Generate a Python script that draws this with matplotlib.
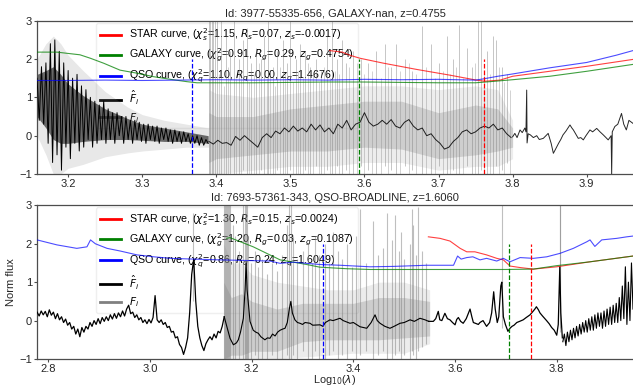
import numpy as np
import matplotlib
matplotlib.use("Agg")
import matplotlib.pyplot as plt
from matplotlib.lines import Line2D

plt.rcParams['font.family'] = ['Liberation Sans', 'DejaVu Sans']
plt.rcParams['font.size'] = 8

# ---------------- TOP PANEL DATA ----------------
top_title = "Id: 3977-55335-656, GALAXY-nan, z=0.4755"
top_xlim = (3.158, 3.9625)
top_xticks = [3.2, 3.3, 3.4, 3.5, 3.6, 3.7, 3.8, 3.9]
top_labels = ["STAR curve, ($\\chi_s^2$=1.15, $R_s$=0.07, $z_s$=-0.0017)",
              "GALAXY curve, ($\\chi_g^2$=0.91, $R_g$=0.29, $z_g$=0.4754)",
              "QSO curve, ($\\chi_q^2$=1.10, $R_q$=0.00, $z_q$=1.4676)",
              "$\\hat{F}_i$", "$F_i$"]

top_star_x = [3.553, 3.57, 3.58, 3.594, 3.626, 3.67, 3.715, 3.751, 3.762, 3.783, 3.80, 3.85, 3.90, 3.9625]
top_star_y = [2.22, 2.18, 2.10, 2.02, 1.89, 1.73, 1.58, 1.45, 1.42, 1.45, 1.55, 1.68, 1.81, 1.99]
top_gal_x = [3.158, 3.185, 3.198, 3.216, 3.23, 3.248, 3.27, 3.293, 3.315, 3.338, 3.36, 3.374, 3.40,
             3.45, 3.50, 3.55, 3.60, 3.65, 3.70, 3.75, 3.77, 3.80, 3.85, 3.90, 3.9625]
top_gal_y = [2.18, 2.18, 2.15, 2.11, 2.02, 1.89, 1.71, 1.63, 1.54, 1.47, 1.41, 1.38, 1.38,
             1.38, 1.39, 1.40, 1.40, 1.39, 1.38, 1.38, 1.41, 1.46, 1.55, 1.68, 1.86]
top_qso_x = [3.158, 3.20, 3.25, 3.30, 3.35, 3.40, 3.45, 3.50, 3.55, 3.60, 3.65, 3.70, 3.75, 3.76,
             3.78, 3.80, 3.85, 3.90, 3.94, 3.9625]
top_qso_y = [1.44, 1.44, 1.45, 1.44, 1.45, 1.46, 1.45, 1.46, 1.45, 1.47, 1.46, 1.47, 1.45, 1.48,
             1.55, 1.61, 1.77, 1.91, 2.10, 2.22]
top_z_lines = [3.3674, 3.5925, 3.7617]   # QSO, GALAXY, STAR

# F_hat (black) region A, uniform grid 3.158..3.389
top_fhatA_y = [1.5, 0.4, 1.8, 0.3, 1.9, -0.2, 2.4, -0.7, 2.5, -0.5, 2.2, -0.9, 1.9, -0.3, 1.7, -0.6,
               1.5, -0.2, 1.6, -0.4, 1.3, -0.3, 1.2, -0.1, 1.0, -0.3, 0.9, -0.2, 0.8, -0.1, 0.9, -0.2,
               0.7, -0.1, 0.6, -0.2, 0.6, 0.0, 0.5, -0.2, 0.5, -0.1, 0.4, -0.2, 0.4, -0.1, 0.35, -0.15,
               0.3, -0.2, 0.3, -0.1, 0.25, -0.15, 0.25, -0.2, 0.2, -0.1, 0.2, -0.15, 0.15, -0.2, 0.15,
               -0.15, 0.1, -0.2, 0.1, -0.15, 0.05, -0.2, 0.0, -0.2, 0.0, -0.25, -0.05, -0.25, -0.1, -0.2]
# dense core of F_hat in region A (envelope)
top_coreA_x = [3.158, 3.17, 3.18, 3.19, 3.20, 3.22, 3.25, 3.28, 3.30, 3.33, 3.36, 3.389]
top_coreA_hi = [1.6, 1.7, 1.8, 1.6, 1.35, 1.05, 0.7, 0.45, 0.3, 0.2, 0.1, 0.0]
top_coreA_lo = [0.5, 0.2, -0.1, -0.2, -0.2, -0.15, -0.1, -0.1, -0.12, -0.15, -0.15, -0.2]
# F_hat region B/C, uniform grid 3.390..3.798
top_fhatC_y = [-0.15, -0.22, -0.12, -0.2, -0.18, -0.25, -0.02, -0.12, 0.0, -0.1, -0.2, -0.3, -0.05,
               0.05, -0.05, 0.12, 0.05, 0.2, 0.1, 0.25, 0.12, 0.2, 0.1, 0.3, 0.15, 0.28, 0.1, 0.2,
               0.05, 0.3, 0.2, 0.4, 0.15, 0.3, 0.35, 0.6, 0.35, 0.25, 0.3, 0.4, 0.3, 0.42, 0.25, 0.2,
               0.35, 0.42, 0.25, 0.15, 0.2, 0.0, 0.05, -0.1, -0.2, -0.35, -0.3, -0.15, -0.05, 0.1,
               0.15, 0.05, 0.1, 0.2, 0.25, 0.2, 0.3, 0.15, 0.2, 0.05, -0.05]
# F_hat region D (black only)
top_fhatD_x = [3.800, 3.803, 3.806, 3.810, 3.813, 3.8165, 3.818, 3.819, 3.8195, 3.821, 3.824, 3.828,
               3.8325, 3.836, 3.8414, 3.845, 3.848, 3.852, 3.855, 3.858, 3.862, 3.865, 3.868, 3.872,
               3.8774, 3.880, 3.882, 3.885, 3.8886, 3.892, 3.8954, 3.899, 3.9044, 3.908, 3.9135,
               3.918, 3.9224, 3.926, 3.929, 3.933, 3.9337, 3.9345, 3.938, 3.942, 3.947, 3.950,
               3.9535, 3.957, 3.9625]
top_fhatD_y = [-0.03, 0.06, -0.05, 0.15, 0.08, 0.2, 0.1, 1.19, -0.19, 0.05, 0.02, -0.05, 0.0, -0.1,
               -0.07, 0.0, 0.06, -0.2, -0.46, -0.35, -0.2, -0.1, 0.02, 0.12, 0.28, 0.2, 0.15, 0.05,
               -0.07, -0.05, -0.11, 0.0, 0.15, 0.1, 0.19, 0.1, 0.02, -0.05, -0.11, 0.0, -1.0, 0.1,
               0.24, 0.3, 0.58, 0.3, 0.15, 0.4, 0.32]
# F_i (gray) envelopes
top_fiA_x = [3.158, 3.17, 3.18, 3.19, 3.20, 3.22, 3.25, 3.28, 3.30, 3.33, 3.36, 3.39]
top_fiA_hi = [2.0, 2.4, 2.6, 2.4, 2.1, 1.7, 1.15, 0.75, 0.55, 0.4, 0.3, 0.2]
top_fiA_lo = [0.0, -0.5, -1.0, -1.0, -0.85, -0.75, -0.55, -0.45, -0.4, -0.35, -0.3, -0.3]
top_fiC_x = [3.39, 3.40, 3.45, 3.50, 3.55, 3.60, 3.65, 3.70, 3.75, 3.78, 3.80]
top_fiC_hi = [1.2, 1.1, 1.0, 1.1, 1.2, 1.3, 1.3, 1.2, 1.3, 1.2, 0.4]
top_fiC_lo = [-1.0, -1.0, -0.9, -0.8, -0.8, -0.7, -0.7, -0.9, -0.8, -0.8, -0.6]
top_fiC_ihi = [0.6, 0.5, 0.5, 0.7, 0.8, 0.9, 0.9, 0.6, 0.8, 0.7, 0.2]
top_fiC_ilo = [-0.7, -0.6, -0.5, -0.4, -0.4, -0.3, -0.35, -0.6, -0.5, -0.4, -0.3]
top_spike_x = [3.390, 3.392, 3.394, 3.396, 3.398, 3.401, 3.407, 3.413, 3.419, 3.424, 3.430, 3.436,
               3.441, 3.447, 3.454, 3.460, 3.465, 3.470, 3.476, 3.482, 3.490, 3.496, 3.500, 3.507,
               3.513, 3.520, 3.527, 3.535, 3.542, 3.550, 3.556, 3.563, 3.570, 3.575, 3.585, 3.596,
               3.605, 3.616, 3.628, 3.636, 3.643, 3.655, 3.664, 3.677, 3.690, 3.700, 3.712, 3.720,
               3.728, 3.739, 3.745, 3.753, 3.757, 3.765, 3.773, 3.778, 3.785, 3.792]
top_spike_top = [3.2, 3.2, 3.2, 3.2, 3.2, 3.2, 3.2, 2.6, 2.2, 3.2, 2.0, 2.5, 2.8, 1.9, 2.3, 2.0, 2.6,
                 3.2, 1.8, 2.2, 2.5, 1.9, 3.2, 2.0, 2.4, 2.2, 1.8, 2.0, 1.7, 2.6, 3.2, 2.0, 2.5, 1.9,
                 2.2, 2.0, 1.9, 2.2, 2.4, 1.8, 2.4, 2.0, 1.7, 2.85, 2.4, 1.9, 2.6, 2.0, 2.9, 2.3, 1.8,
                 3.2, 3.2, 2.2, 2.6, 2.5, 1.8, 1.6]
top_spike_bot = [-1.1, -1.1, -1.1, -1.1, -1.1, -1.1, -1.1, -1.0, -1.1, -1.0, -1.1, -0.9, -1.1, -1.0,
                 -1.1, -0.9, -1.1, -1.0, -1.1, -0.9, -1.1, -1.0, -0.9, -1.1, -1.0, -0.9, -1.1, -0.8,
                 -1.0, -0.9, -1.1, -0.8, -1.0, -0.9, -1.1, -0.8, -0.9, -1.1, -0.8, -0.9, -1.1, -0.8,
                 -0.9, -1.1, -1.0, -0.8, -1.1, -0.9, -1.1, -0.8, -1.0, -1.1, -0.9, -1.0, -1.1, -0.8,
                 -0.9, -0.7]
# shorter F_i excursions in top region C
top_short_x = [3.404, 3.410, 3.416, 3.427, 3.433, 3.444, 3.451, 3.457, 3.468, 3.473, 3.479, 3.486,
               3.493, 3.503, 3.510, 3.517, 3.524, 3.531, 3.538, 3.546, 3.553, 3.560, 3.566, 3.579,
               3.590, 3.600, 3.610, 3.622, 3.632, 3.648, 3.660, 3.670, 3.683, 3.695, 3.706, 3.716,
               3.724, 3.733, 3.749, 3.761, 3.769, 3.782, 3.789, 3.796]
top_short_top = [1.6, 1.3, 1.8, 1.5, 1.7, 1.4, 1.6, 1.9, 1.5, 1.7, 1.3, 1.8, 1.6, 1.4, 1.7, 1.5, 1.9,
                 1.6, 1.4, 1.8, 1.5, 1.7, 1.6, 1.8, 1.9, 1.6, 1.7, 1.5, 1.8, 1.7, 1.9, 1.6, 1.8, 1.5,
                 1.7, 1.6, 1.8, 1.5, 1.9, 1.7, 1.6, 1.8, 1.4, 1.2]

# ---------------- BOTTOM PANEL DATA ----------------
bot_title = "Id: 7693-57361-343, QSO-BROADLINE, z=1.6060"
bot_xlim = (2.7778, 3.950)
bot_xticks = [2.8, 3.0, 3.2, 3.4, 3.6, 3.8]
bot_labels = ["STAR curve, ($\\chi_s^2$=1.30, $R_s$=0.15, $z_s$=0.0024)",
              "GALAXY curve, ($\\chi_g^2$=1.20, $R_g$=0.03, $z_g$=0.1087)",
              "QSO curve, ($\\chi_q^2$=0.86, $R_q$=0.24, $z_q$=1.6049)",
              "$\\hat{F}_i$", "$F_i$"]

bot_star_x = [3.5475, 3.5705, 3.59, 3.61, 3.623, 3.639, 3.662, 3.682, 3.695, 3.708, 3.728, 3.754,
              3.80, 3.8655, 3.95]
bot_star_y = [2.18, 2.14, 2.07, 1.88, 1.79, 1.79, 1.71, 1.62, 1.58, 1.42, 1.38, 1.34, 1.40, 1.53, 1.68]
bot_gal_x = [3.151, 3.157, 3.203, 3.256, 3.308, 3.334, 3.387, 3.433, 3.50, 3.60, 3.70, 3.754, 3.80,
             3.8655, 3.95]
bot_gal_y = [2.14, 2.16, 1.92, 1.58, 1.46, 1.39, 1.35, 1.33, 1.33, 1.33, 1.33, 1.34, 1.43, 1.53, 1.68]
bot_qso_x = [2.7778, 2.817, 2.856, 2.876, 2.883, 2.8925, 2.9155, 2.9416, 2.9745, 3.0073, 3.04, 3.086,
             3.1377, 3.236, 3.256, 3.282, 3.334, 3.374, 3.433, 3.4786, 3.544, 3.597, 3.605, 3.612,
             3.623, 3.635, 3.649, 3.662, 3.682, 3.695, 3.708, 3.728, 3.754, 3.7804, 3.8065, 3.8327,
             3.859, 3.8655, 3.875, 3.8885, 3.918, 3.9377, 3.95]
bot_qso_y = [2.10, 1.97, 1.88, 1.92, 2.10, 2.00, 1.88, 1.81, 1.71, 1.66, 1.62, 1.60, 1.58, 1.55,
             1.49, 1.52, 1.46, 1.44, 1.40, 1.41, 1.44, 1.44, 1.68, 1.60, 1.64, 1.66, 1.58, 1.62,
             1.55, 1.62, 1.53, 1.64, 1.62, 1.66, 1.75, 1.88, 2.05, 2.10, 1.93, 2.10, 2.14, 2.18, 2.20]
bot_z_lines = [3.3397, 3.7068, 3.750]   # QSO, GALAXY, STAR

# F_hat region 1, uniform grid 2.778..3.146
bot_fhat1_y = [0.22, 0.12, 0.25, 0.15, 0.24, 0.10, 0.28, 0.14, 0.22, 0.05, 0.18, 0.02, 0.10, -0.05,
               0.04, -0.12, -0.05, -0.22, -0.15, -0.35, -0.22, -0.42, -0.18, -0.30, -0.15, -0.22,
               -0.05, -0.15, 0.00, -0.10, 0.05, -0.08, 0.08, -0.02, 0.10, 0.00, 0.15, 0.04, 0.18,
               0.06, 0.20, 0.10, 0.25, 0.12, 0.30, 0.40, 0.18, 0.22, 0.08, 0.15, 0.02, 0.08, -0.05,
               0.02, -0.08, 0.03, -0.06, 0.08, 0.65, 0.02, -0.05, 0.02, -0.10, -0.05, -0.18, -0.15,
               -0.30, -0.28, -0.45, -0.42, -0.62, -0.70, -0.88, -0.70, -0.45, 0.20, 1.20, 1.60, 0.50,
               -0.15, -0.45, -0.65, -0.78, -0.60, -0.50, -0.42, -0.50, -0.35, -0.45, -0.28, -0.32,
               -0.15, 0.10]
# F_hat region 2
bot_fhat2_x = [3.146, 3.150, 3.1574, 3.164, 3.170, 3.1737, 3.178, 3.1836, 3.187, 3.189, 3.191,
               3.1967, 3.203, 3.208, 3.213, 3.218, 3.226, 3.231, 3.236, 3.241, 3.246, 3.251, 3.256,
               3.261, 3.2656, 3.270, 3.274, 3.277, 3.280, 3.285, 3.290, 3.295, 3.300, 3.305, 3.3148,
               3.320, 3.3344, 3.340, 3.345, 3.354, 3.360, 3.3737, 3.380, 3.3934, 3.400, 3.413, 3.4263,
               3.435, 3.4426, 3.447, 3.4525, 3.462, 3.472, 3.480, 3.4918, 3.500, 3.5115, 3.520,
               3.531, 3.541, 3.548]
bot_fhat2_y = [0.10, -0.10, -0.46, -0.63, -0.58, -0.50, -0.30, 0.06, 0.8, 1.5, 0.8, -0.02, -0.25,
               -0.30, -0.33, -0.42, -0.50, -0.45, -0.46, -0.35, -0.40, -0.30, -0.25, -0.22, -0.20,
               -0.05, 0.30, 0.50, 0.20, 0.02, -0.05, -0.07, -0.10, -0.05, -0.07, -0.12, -0.11,
               -0.15, -0.05, 0.02, 0.00, 0.06, 0.00, -0.07, -0.05, -0.16, -0.20, -0.05, 0.15, 0.00,
               -0.07, -0.15, -0.20, -0.15, -0.07, -0.05, 0.02, -0.02, 0.06, 0.02, -0.02]
# F_hat region 3
bot_fhat3_x = [3.548, 3.5573, 3.562, 3.567, 3.570, 3.574, 3.580, 3.585, 3.590, 3.595, 3.600, 3.6033,
               3.6065, 3.611, 3.616, 3.622, 3.6295, 3.633, 3.636, 3.6458, 3.649, 3.655, 3.662,
               3.668, 3.672, 3.676, 3.679, 3.683, 3.686, 3.690, 3.692, 3.695, 3.699, 3.704, 3.708,
               3.712, 3.716, 3.7214, 3.727, 3.734, 3.740, 3.7475, 3.752, 3.757, 3.760, 3.764, 3.767,
               3.772, 3.776, 3.780, 3.785, 3.790, 3.795, 3.800, 3.803, 3.806, 3.808, 3.811]
bot_fhat3_y = [-0.02, -0.02, 0.05, 0.24, 0.02, 0.0, 0.19, 0.05, 0.02, -0.05, -0.11, 0.03, 0.08,
               -0.02, -0.07, 0.05, 0.30, 0.10, -0.05, -0.10, -0.05, 0.0, -0.15, -0.05, 0.20, 0.75,
               0.30, -0.05, 0.10, 0.90, 1.00, 0.10, -0.10, -0.28, -0.20, -0.15, -0.12, -0.05, -0.02,
               0.02, 0.08, 0.15, 0.22, 0.30, 0.36, 0.28, 0.20, 0.12, 0.06, 0.00, -0.08, -0.18,
               -0.25, -0.38, -0.10, 1.40, 0.20, -0.45]
# F_hat region 4, uniform grid 3.812..3.950
bot_fhat4_y = [-0.55, -0.35, -0.65, -0.30, -0.55, -0.25, -0.50, -0.20, -0.45, -0.15, -0.40, -0.10,
               -0.35, -0.05, -0.30, 0.00, -0.30, 0.05, -0.25, 0.10, -0.25, 0.15, -0.20, 0.20, -0.15,
               0.20, -0.20, 0.25, -0.15, 0.30, -0.10, 0.35, -0.10, 0.40, -0.05, 0.45, -0.05, 0.60,
               0.00, 0.90, 0.05, 1.40, -0.10, 1.00, 0.00, 1.50, 0.30]
# F_i (gray) envelopes, region 2
bot_fi_x = [3.145, 3.16, 3.18, 3.20, 3.25, 3.30, 3.35, 3.40, 3.45, 3.50, 3.55]
bot_fi_hi = [2.0, 1.5, 1.5, 1.2, 1.0, 0.9, 0.8, 0.8, 1.0, 1.0, 0.8]
bot_fi_lo = [-1.0, -1.0, -1.0, -1.0, -1.0, -0.95, -0.9, -0.85, -0.85, -0.85, -0.6]
bot_fi_ihi = [1.0, 0.6, 0.7, 0.5, 0.3, 0.45, 0.45, 0.45, 0.6, 0.6, 0.5]
bot_fi_ilo = [-1.0, -0.9, -0.9, -0.8, -0.8, -0.55, -0.5, -0.5, -0.5, -0.45, -0.4]
bot_spike_x = [3.145, 3.147, 3.149, 3.151, 3.153, 3.155, 3.158, 3.163, 3.168, 3.175, 3.182, 3.186,
               3.188, 3.190, 3.193, 3.198, 3.206, 3.213, 3.220, 3.230, 3.240, 3.250, 3.260, 3.270,
               3.274, 3.277, 3.282, 3.290, 3.300, 3.310, 3.318, 3.325, 3.332, 3.345, 3.352, 3.360,
               3.370, 3.378, 3.388, 3.397, 3.405, 3.413, 3.425, 3.439, 3.448, 3.458, 3.466, 3.476,
               3.482, 3.490, 3.494, 3.500, 3.511, 3.515, 3.518, 3.523, 3.528, 3.535, 3.542,
               3.084, 3.692, 3.806, 3.807]
bot_spike_top = [3.2, 3.2, 3.2, 3.2, 3.2, 3.2, 3.2, 2.5, 2.2, 1.8, 3.2, 3.2, 3.2, 3.2, 2.2, 1.5, 1.8,
                 1.4, 1.6, 1.2, 1.5, 1.3, 1.7, 2.5, 3.2, 3.2, 2.2, 1.6, 1.8, 2.0, 1.5, 2.2, 1.7, 2.0,
                 1.5, 2.3, 1.8, 1.6, 2.0, 1.4, 2.2, 2.9, 1.5, 2.6, 1.7, 1.9, 2.8, 2.1, 2.75, 1.8, 2.3,
                 1.6, 2.0, 2.9, 2.5, 1.7, 2.95, 1.8, 1.5,
                 2.8, 3.2, 3.2, 3.2]
bot_spike_bot = [-1.1, -1.1, -1.1, -1.1, -1.1, -1.1, -1.1, -1.1, -1.0, -1.1, -1.0, -1.1, -1.0, -1.1,
                 -1.0, -1.1, -0.9, -1.1, -1.0, -1.1, -0.9, -1.1, -1.0, -0.9, -1.1, -1.0, -0.9, -1.1,
                 -0.8, -1.0, -1.1, -0.8, -1.0, -1.1, -0.9, -0.8, -1.1, -0.9, -1.0, -0.8, -1.1, -0.9,
                 -0.8, -1.1, -0.9, -0.8, -1.0, -1.1, -0.9, -0.8, -1.0, -0.9, -1.1, -0.8, -0.9, -1.0,
                 -0.8, -0.7, -0.6,
                 0.5, -0.2, -0.2, -0.3]

# ---------------- DRAWING ----------------
C_STAR, C_GAL, C_QSO = 'red', 'green', 'blue'
SPINE = '0.3'

fig = plt.figure(figsize=(6.33, 3.86), dpi=100)
ax_top = fig.add_axes([0.0585, 0.5492, 0.9415, 0.3972])
ax_bot = fig.add_axes([0.0585, 0.0699, 0.9415, 0.3982])


def style_axes(ax, xlim, xticks, title):
    ax.set_xlim(*xlim)
    ax.set_ylim(-1, 3)
    ax.set_xticks(xticks)
    ax.set_yticks([-1, 0, 1, 2, 3])
    ax.set_title(title, fontsize=8, pad=3, color='0.15')
    for s in ['left', 'bottom', 'top']:
        ax.spines[s].set_color(SPINE)
        ax.spines[s].set_linewidth(0.9)
    ax.spines['right'].set_visible(False)
    ax.tick_params(direction='out', length=2.5, width=0.8, color=SPINE,
                   labelsize=8, labelcolor='0.15', pad=1.2)


def add_legend(ax, labels):
    handles = [Line2D([], [], color=C_STAR, lw=2),
               Line2D([], [], color=C_GAL, lw=2),
               Line2D([], [], color=C_QSO, lw=2),
               Line2D([], [], color='black', lw=2),
               Line2D([], [], color='gray', lw=2)]
    leg = ax.legend(handles, labels, loc='upper left', bbox_to_anchor=(0.095, 1.0),
                    fontsize=7.7, framealpha=0.8, borderaxespad=0.2, labelspacing=0.34,
                    handlelength=2.0, borderpad=0.35)
    leg.get_frame().set_edgecolor('0.92')
    leg.set_zorder(0.5)   # data is drawn over the legend, as in the reference


def draw_curves(ax, sx, sy, gx, gy, qx, qy, zl):
    ax.plot(sx, sy, color=C_STAR, lw=0.8, alpha=0.75, zorder=4)
    ax.plot(gx, gy, color=C_GAL, lw=0.8, alpha=0.75, zorder=4)
    ax.plot(qx, qy, color=C_QSO, lw=0.8, alpha=0.7, zorder=4)
    for xz, c in zip(zl, [C_QSO, C_GAL, C_STAR]):
        ax.vlines(xz, -1, 2, colors=c, linestyles='--', lw=0.9, zorder=5)


# --- top panel ---
ax = ax_top
style_axes(ax, top_xlim, top_xticks, top_title)
ax.fill_between(top_fiA_x, top_fiA_lo, top_fiA_hi, color='gray', alpha=0.18, lw=0, zorder=1)
ax.fill_between(top_fiC_x, top_fiC_lo, top_fiC_hi, color='gray', alpha=0.14, lw=0, zorder=1)
ax.fill_between(top_fiC_x, top_fiC_ilo, top_fiC_ihi, color='gray', alpha=0.28, lw=0, zorder=1)
ax.vlines(top_spike_x, top_spike_bot, top_spike_top, colors='gray', alpha=0.45, lw=0.7, zorder=1)
ax.vlines(top_short_x, -1.0, top_short_top, colors='gray', alpha=0.35, lw=0.7, zorder=1)
xA = np.linspace(3.158, 3.389, len(top_fhatA_y))
xC = np.linspace(3.390, 3.798, len(top_fhatC_y))
ax.fill_between(top_coreA_x, top_coreA_lo, top_coreA_hi, color='black', alpha=0.55, lw=0, zorder=2)
ax.plot(xA, top_fhatA_y, color='black', lw=0.7, zorder=3)
ax.plot(xC, top_fhatC_y, color='black', lw=0.7, alpha=0.85, zorder=3)
ax.plot(top_fhatD_x, top_fhatD_y, color='black', lw=0.7, alpha=0.85, zorder=3)
draw_curves(ax, top_star_x, top_star_y, top_gal_x, top_gal_y, top_qso_x, top_qso_y, top_z_lines)
add_legend(ax, top_labels)

# --- bottom panel ---
ax = ax_bot
style_axes(ax, bot_xlim, bot_xticks, bot_title)
ax.fill_between(bot_fi_x, bot_fi_lo, bot_fi_hi, color='gray', alpha=0.15, lw=0, zorder=1)
ax.fill_between(bot_fi_x, bot_fi_ilo, bot_fi_ihi, color='gray', alpha=0.28, lw=0, zorder=1)
ax.vlines(bot_spike_x, bot_spike_bot, bot_spike_top, colors='gray', alpha=0.5, lw=0.8, zorder=1)
x1 = np.linspace(2.778, 3.146, len(bot_fhat1_y))
x4 = np.linspace(3.812, 3.950, len(bot_fhat4_y))
ax.plot(x1, bot_fhat1_y, color='black', lw=0.9, zorder=3)
ax.plot(bot_fhat2_x, bot_fhat2_y, color='black', lw=0.8, zorder=3)
ax.plot(bot_fhat3_x, bot_fhat3_y, color='black', lw=0.9, zorder=3)
ax.plot(x4, bot_fhat4_y, color='black', lw=0.8, zorder=3)
draw_curves(ax, bot_star_x, bot_star_y, bot_gal_x, bot_gal_y, bot_qso_x, bot_qso_y, bot_z_lines)
add_legend(ax, bot_labels)
ax.set_xlabel("Log$_{10}$($\\lambda$)", fontsize=7.8, color='0.15', labelpad=-1)
ax.set_ylabel("Norm flux", fontsize=8, color='0.15', labelpad=2)

fig.savefig("out.png", dpi=100)
